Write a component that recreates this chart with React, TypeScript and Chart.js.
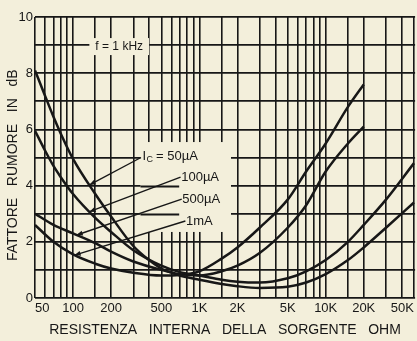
import React, { useEffect, useRef } from 'react';
import { Chart, registerables } from 'chart.js';

Chart.register(...registerables);

// Source resistance (ohm) sample points and noise figure (dB) for each collector current
const R_50uA = [50, 60, 70, 80, 100, 150, 200, 300, 400, 500, 700, 1000, 1500, 2000, 3000, 5000, 7000, 10000, 15000, 20000, 30000, 50000];
const NF_50uA = [8.1, 7.2, 6.45, 5.85, 4.95, 3.7, 2.9, 1.85, 1.35, 1.05, 0.8, 0.65, 0.5, 0.42, 0.36, 0.4, 0.55, 0.85, 1.35, 1.8, 2.5, 3.4];

const R_100uA = [50, 60, 70, 80, 100, 150, 200, 300, 500, 700, 1000, 1500, 2000, 3000, 5000, 7000, 10000, 15000, 20000, 30000, 50000];
const NF_100uA = [5.95, 5.25, 4.7, 4.3, 3.7, 2.85, 2.35, 1.7, 1.15, 0.92, 0.8, 0.65, 0.58, 0.55, 0.7, 0.95, 1.35, 2.0, 2.6, 3.5, 4.8];

const R_500uA = [50, 70, 100, 150, 200, 300, 500, 700, 1000, 1500, 2000, 3000, 5000, 7000, 10000, 15000, 20000];
const NF_500uA = [3.0, 2.6, 2.3, 1.95, 1.65, 1.3, 1.0, 0.85, 0.8, 0.95, 1.15, 1.6, 2.5, 3.3, 4.5, 5.5, 6.1];

const R_1mA = [50, 70, 100, 150, 200, 300, 500, 700, 1000, 1500, 2000, 3000, 5000, 7000, 10000, 15000, 20000];
const NF_1mA = [2.6, 2.0, 1.55, 1.22, 1.05, 0.9, 0.8, 0.82, 0.95, 1.4, 1.8, 2.5, 3.5, 4.5, 5.5, 6.8, 7.6];

// Axis grid and labels
const X_GRID = [50, 60, 70, 80, 90, 100, 150, 200, 300, 400, 500, 600, 700, 800, 900, 1000, 1500, 2000, 3000, 4000, 5000, 6000, 7000, 8000, 9000, 10000, 15000, 20000, 30000, 40000, 50000];
const X_LABEL_VALUES = [50, 100, 200, 500, 1000, 2000, 5000, 10000, 20000, 50000];
const X_LABELS = ['50', '100', '200', '500', '1K', '2K', '5K', '10K', '20K', '50K'];
const X_MIN = 50;
const X_MAX = 51000;
const Y_MIN = 0;
const Y_MAX = 10;

const X_TITLE = 'RESISTENZA   INTERNA   DELLA   SORGENTE   OHM';
const Y_TITLE = 'FATTORE   RUMORE   IN   dB    ';

// Annotation texts, anchored in data units (ohm, dB)
const FREQ_LABEL = 'f = 1 kHz';
const FREQ_AT = [232, 8.93];
const CURRENT_LABELS = ['= 50µA', '100µA', '500µA', '1mA'];
const CURRENT_LABEL_AT = [[354, 5.05], [718, 4.3], [733, 3.52], [784, 2.74]];
const LEADER_FROM = [[345, 5.0], [710, 4.3], [725, 3.52], [775, 2.74]];
const LEADER_TO_R = [135, 135, 107, 103];
const CLEAR_BLOCK = [342, 1780, 5.55, 2.35];
const KEEP_LINES = [4, 3];

const BG = '#f3efdb';
const INK = '#171717';

function valueAt(rs: number[], nf: number[], r: number): number {
  for (let i = 0; i < rs.length - 1; i++) {
    if (r >= rs[i] && r <= rs[i + 1]) {
      const t = (Math.log(r) - Math.log(rs[i])) / (Math.log(rs[i + 1]) - Math.log(rs[i]));
      return nf[i] + t * (nf[i + 1] - nf[i]);
    }
  }
  return nf[nf.length - 1];
}

const SERIES = [
  [R_50uA, NF_50uA],
  [R_100uA, NF_100uA],
  [R_500uA, NF_500uA],
  [R_1mA, NF_1mA],
];

const annotationPlugin = {
  id: 'annotationPlugin',
  beforeDraw(chart: any) {
    const { ctx, width, height } = chart;
    ctx.save();
    ctx.fillStyle = BG;
    ctx.fillRect(0, 0, width, height);
    ctx.restore();
  },
  beforeDatasetsDraw(chart: any) {
    const { ctx, scales } = chart;
    const x = scales.x;
    const y = scales.y;
    ctx.save();
    ctx.fillStyle = BG;
    // cleared block behind the current labels
    const bx0 = x.getPixelForValue(CLEAR_BLOCK[0]);
    const bx1 = x.getPixelForValue(CLEAR_BLOCK[1]);
    const by0 = y.getPixelForValue(CLEAR_BLOCK[2]);
    const by1 = y.getPixelForValue(CLEAR_BLOCK[3]);
    ctx.fillRect(bx0, by0, bx1 - bx0, by1 - by0);
    // restore parts of the 4 dB and 3 dB lines left of the labels
    ctx.strokeStyle = INK;
    ctx.lineWidth = 1.8;
    KEEP_LINES.forEach((v) => {
      const py = Math.round(y.getPixelForValue(v)) + 0.5;
      const xEnd = x.getPixelForValue(CURRENT_LABEL_AT[1][0]) - 2;
      ctx.beginPath();
      ctx.moveTo(bx0, py);
      ctx.lineTo(xEnd, py);
      ctx.stroke();
    });
    // box behind frequency label
    ctx.font = '12px "Liberation Sans", Arial, sans-serif';
    const fw = ctx.measureText(FREQ_LABEL).width;
    const fx = x.getPixelForValue(FREQ_AT[0]);
    const fy = y.getPixelForValue(FREQ_AT[1]);
    ctx.fillRect(fx - fw / 2 - 6, fy - 9, fw + 12, 17);
    ctx.restore();
  },
  afterDatasetsDraw(chart: any) {
    const { ctx, scales } = chart;
    const x = scales.x;
    const y = scales.y;
    ctx.save();
    ctx.fillStyle = INK;
    ctx.strokeStyle = INK;
    ctx.textBaseline = 'middle';
    ctx.textAlign = 'center';
    ctx.font = '12px "Liberation Sans", Arial, sans-serif';
    ctx.fillText(FREQ_LABEL, x.getPixelForValue(FREQ_AT[0]), y.getPixelForValue(FREQ_AT[1]));

    ctx.textAlign = 'left';
    CURRENT_LABELS.forEach((label, i) => {
      let px = x.getPixelForValue(CURRENT_LABEL_AT[i][0]);
      const py = y.getPixelForValue(CURRENT_LABEL_AT[i][1]);
      if (i === 0) {
        ctx.font = '13px "Liberation Sans", Arial, sans-serif';
        ctx.fillText('I', px, py);
        px += ctx.measureText('I').width + 0.5;
        ctx.font = '9px "Liberation Sans", Arial, sans-serif';
        ctx.fillText('C', px, py + 3);
        px += ctx.measureText('C').width + 3;
      }
      ctx.font = '13px "Liberation Sans", Arial, sans-serif';
      ctx.fillText(label, px, py);

      // leader line with arrow head towards the curve
      const [rs, nf] = SERIES[i];
      const x0 = x.getPixelForValue(LEADER_FROM[i][0]);
      const y0 = y.getPixelForValue(LEADER_FROM[i][1]);
      const x1 = x.getPixelForValue(LEADER_TO_R[i]);
      const y1 = y.getPixelForValue(valueAt(rs, nf, LEADER_TO_R[i]));
      ctx.lineWidth = 1.4;
      ctx.beginPath();
      ctx.moveTo(x0, y0);
      ctx.lineTo(x1, y1);
      ctx.stroke();
      const ang = Math.atan2(y1 - y0, x1 - x0);
      const len = 6;
      const wid = 2.5;
      ctx.beginPath();
      ctx.moveTo(x1, y1);
      ctx.lineTo(x1 - len * Math.cos(ang) + wid * Math.sin(ang), y1 - len * Math.sin(ang) - wid * Math.cos(ang));
      ctx.lineTo(x1 - len * Math.cos(ang) - wid * Math.sin(ang), y1 - len * Math.sin(ang) + wid * Math.cos(ang));
      ctx.closePath();
      ctx.fill();
    });
    ctx.restore();
  },
};

export default function App() {
  const canvasRef = useRef<HTMLCanvasElement | null>(null);

  useEffect(() => {
    const canvas = canvasRef.current;
    if (!canvas) return;
    const datasets = SERIES.map(([rs, nf]) => ({
      data: rs.map((r, i) => ({ x: r, y: nf[i] })),
      borderColor: INK,
      borderWidth: 2.5,
      pointRadius: 0,
      cubicInterpolationMode: 'monotone' as const,
      fill: false,
    }));

    const font = '"Liberation Sans", Arial, sans-serif';
    const chart = new Chart(canvas, {
      type: 'line',
      data: { datasets },
      options: {
        responsive: false,
        animation: false,
        devicePixelRatio: 1,
        layout: { padding: { top: 17, right: 0, left: 0, bottom: 0 } },
        plugins: { legend: { display: false }, tooltip: { enabled: false } },
        scales: {
          x: {
            type: 'logarithmic',
            min: X_MIN,
            max: X_MAX,
            afterBuildTicks: (scale: any) => {
              scale.ticks = X_GRID.map((v) => ({ value: v }));
            },
            afterFit: (scale: any) => {
              scale.height = 43;
            },
            ticks: {
              autoSkip: false,
              maxRotation: 0,
              align: 'inner',
              padding: 3,
              color: INK,
              font: { family: font, size: 13 },
              callback: (v: any) => {
                const idx = X_LABEL_VALUES.indexOf(Number(v));
                return idx >= 0 ? X_LABELS[idx] : '';
              },
            },
            grid: { color: INK, lineWidth: 1.6, drawTicks: false },
            border: { display: false },
            title: {
              display: true,
              text: X_TITLE,
              color: INK,
              font: { family: font, size: 14 },
              padding: { top: 0, bottom: 2 },
            },
          },
          y: {
            type: 'linear',
            min: Y_MIN,
            max: Y_MAX,
            afterFit: (scale: any) => {
              scale.width = 35;
            },
            ticks: {
              stepSize: 1,
              padding: 2,
              color: INK,
              font: { family: font, size: 13 },
              callback: (v: any) => (Number(v) % 2 === 0 ? String(v) : ''),
            },
            grid: { color: INK, lineWidth: 1.8, drawTicks: false },
            border: { display: false },
            title: {
              display: true,
              text: Y_TITLE,
              color: INK,
              font: { family: font, size: 14 },
              padding: { top: 5, bottom: 0 },
            },
          },
        },
      },
      plugins: [annotationPlugin],
    });
    return () => chart.destroy();
  }, []);

  return (
    <div style={{ position: 'fixed', left: 0, top: 0, width: 417, height: 341, overflow: 'hidden', background: BG }}>
      <canvas ref={canvasRef} width={417} height={341} style={{ display: 'block' }} />
    </div>
  );
}
